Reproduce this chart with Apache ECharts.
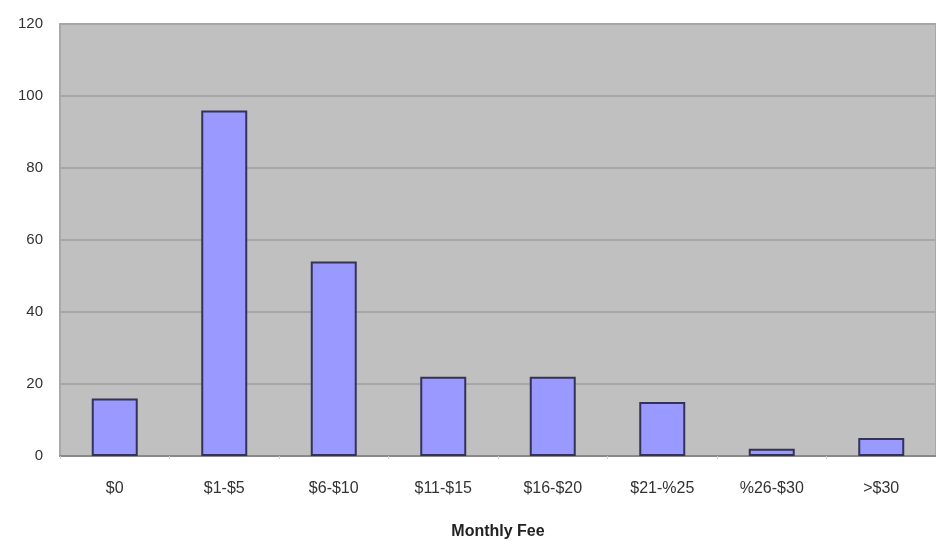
<!DOCTYPE html>
<html><head><meta charset="utf-8">
<script src="https://cdn.jsdelivr.net/npm/echarts@6/dist/echarts.min.js"></script>
<style>html,body{margin:0;padding:0;background:#fff;overflow:hidden}#c{width:936px;height:541px}</style>
</head><body><div id="c"></div>
<script>
const categories = ['$0', '$1-$5', '$6-$10', '$11-$15', '$16-$20', '$21-%25', '%26-$30', '>$30'];
const values = [16, 96, 54, 22, 22, 15, 2, 5];
const yTicks = [0, 20, 40, 60, 80, 100, 120];
const xTitle = 'Monthly Fee';

const chart = echarts.init(document.getElementById('c'));
chart.setOption({
  animation: false,
  grid: { left: 60, right: 0, top: 24, bottom: 85, containLabel: false, outerBoundsMode: 'none', show: true, backgroundColor: '#c0c0c0', borderColor: '#a8a8a8', borderWidth: 2 },
  xAxis: {
    type: 'category', data: categories,
    name: xTitle, nameLocation: 'middle', nameGap: 68,
    nameTextStyle: { fontFamily: 'Liberation Sans', fontSize: 16, fontWeight: 'bold', color: '#222' },
    axisLine: { lineStyle: { color: '#888', width: 2 } },
    axisTick: { show: true, alignWithLabel: false, length: 3, lineStyle: { color: '#ccc' } },
    axisLabel: { fontFamily: 'Liberation Sans', fontSize: 16, color: '#333', margin: 25 }
  },
  yAxis: {
    type: 'value', min: 0, max: 120, interval: 20,
    axisLine: { show: false },
    axisTick: { show: false },
    axisLabel: { fontFamily: 'Liberation Sans', fontSize: 15, color: '#333', margin: 17, formatter: v => yTicks.includes(v) ? String(v) : '' },
    splitLine: { lineStyle: { color: '#a6a6a6', width: 2 } }
  },
  series: [{
    type: 'bar', data: values, barCategoryGap: '58%',
    itemStyle: { color: '#9999ff', borderColor: '#33335a', borderWidth: 2 }
  }]
});
</script></body></html>
